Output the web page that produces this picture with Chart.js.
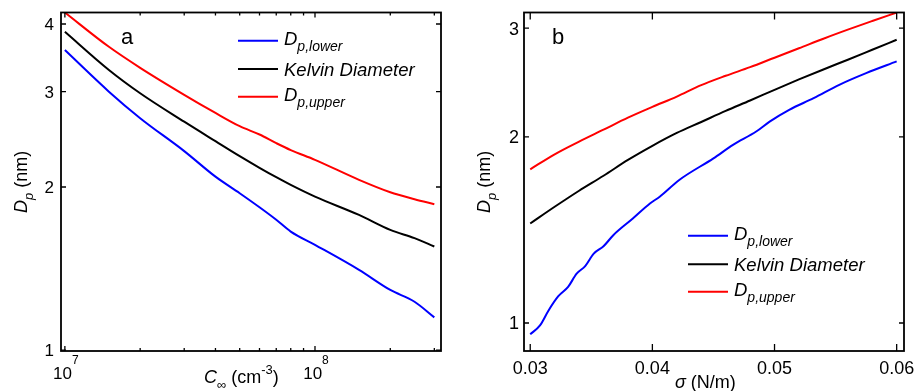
<!DOCTYPE html>
<html>
<head>
<meta charset="utf-8">
<script src="https://cdn.jsdelivr.net/npm/chart.js@4.4.1/dist/chart.umd.min.js"></script>
<style>
  body { margin: 0; background: #fff; }
  #wrap { position: relative; width: 917px; height: 391px; }
  canvas { position: absolute; top: 0; }
  #chartA { left: 0; }
  #chartB { left: 460px; }
</style>
</head>
<body>
<div id="wrap">
  <canvas id="chartA" width="460" height="391"></canvas>
  <canvas id="chartB" width="457" height="391"></canvas>
</div>
<script>
// panel a: Dp vs C_inf (log-log)
const concA = [1e7, 1.5e7, 2e7, 3e7, 4e7, 5e7, 6e7, 7e7, 8e7, 1e8, 1.5e8, 2e8, 2.5e8, 3e8];
const lowerA = [3.58, 3.0, 2.68, 2.33, 2.09, 1.948, 1.835, 1.74, 1.655, 1.564, 1.406, 1.291, 1.228, 1.149];
const kelvinA = [3.87, 3.29, 2.98, 2.64, 2.43, 2.28, 2.17, 2.085, 2.018, 1.92, 1.776, 1.667, 1.609, 1.553];
const upperA = [4.2, 3.63, 3.32, 2.96, 2.74, 2.59, 2.50, 2.41, 2.34, 2.245, 2.062, 1.956, 1.899, 1.859];

// panel b: Dp vs sigma
const sigmaB = [0.030, 0.032, 0.034, 0.036, 0.038, 0.040, 0.042, 0.044, 0.046, 0.048, 0.050, 0.052, 0.054, 0.056, 0.058, 0.060];
const kelvinB = [1.449, 1.542, 1.637, 1.731, 1.836, 1.935, 2.030, 2.115, 2.204, 2.291, 2.384, 2.478, 2.572, 2.667, 2.768, 2.873];
const upperB = [1.773, 1.875, 1.966, 2.055, 2.149, 2.237, 2.325, 2.426, 2.512, 2.594, 2.687, 2.783, 2.884, 2.983, 3.081, 3.18];
const sigmaLow = [0.0300, 0.0308, 0.0315, 0.0323, 0.0331, 0.0338, 0.0345, 0.0352, 0.0360, 0.0368, 0.0384, 0.0398, 0.0406, 0.0422,
                  0.0450, 0.0466, 0.0485, 0.0496, 0.0512, 0.0532, 0.0553, 0.0575, 0.0600];
const lowerB = [0.959, 0.991, 1.048, 1.105, 1.144, 1.202, 1.236, 1.295, 1.331, 1.387, 1.476, 1.561, 1.601, 1.704,
                1.847, 1.942, 2.041, 2.118, 2.213, 2.311, 2.429, 2.537, 2.65];

// ticks
const xMajorA = [1e7, 1e8];
const xMinorA = [2e7, 3e7, 4e7, 5e7, 6e7, 7e7, 8e7, 9e7, 2e8, 3e8];
const yTicksA = [1, 2, 3, 4];
const xTicksB = [0.03, 0.04, 0.05, 0.06];
const yTicksB = [1, 2, 3];

const F = '"Liberation Sans", Arial, Helvetica, sans-serif';
const BLUE = "#0000ff", BLACK = "#000000", RED = "#ff0000";

const pts = (xs, ys) => xs.map((v, i) => ({ x: v, y: ys[i] }));

// draw a sequence of text pieces (for sub/superscripts)
function drawRuns(ctx, x, y, runs) {
    let cx = x;
    runs.forEach((r) => {
        ctx.font = r.font;
        ctx.fillText(r.t, cx, y + (r.dy || 0));
        cx += ctx.measureText(r.t).width;
    });
    return cx;
}
function runsWidth(ctx, runs) {
    let w = 0;
    runs.forEach((r) => { ctx.font = r.font; w += ctx.measureText(r.t).width; });
    return w;
}

const legendRuns = [
    { color: BLUE, runs: [{ t: "D", font: `italic 18.5px ${F}`, dy: 4.5 }, { t: "p,lower", font: `italic 14px ${F}`, dy: 10.5 }] },
    { color: BLACK, runs: [{ t: "Kelvin Diameter", font: `italic 18.5px ${F}`, dy: 6.5 }] },
    { color: RED, runs: [{ t: "D", font: `italic 18.5px ${F}`, dy: 4.5 }, { t: "p,upper", font: `italic 14px ${F}`, dy: 10.5 }] },
];

// frame, inward ticks, labels, titles and legend (MATLAB look)
function makeDecor(cfg) {
    return {
        id: "decor",
        afterDraw(chart) {
            const { ctx, chartArea: a, scales } = chart;
            const x = scales.x, y = scales.y;
            ctx.save();
            ctx.strokeStyle = "#000";
            ctx.fillStyle = "#000";
            ctx.lineWidth = 1.8;
            ctx.strokeRect(a.left, a.top, a.right - a.left, a.bottom - a.top);

            ctx.lineWidth = 1.3;
            const xTick = (v, len) => {
                const px = x.getPixelForValue(v);
                ctx.beginPath();
                ctx.moveTo(px, a.bottom); ctx.lineTo(px, a.bottom - len);
                ctx.moveTo(px, a.top); ctx.lineTo(px, a.top + len);
                ctx.stroke();
            };
            const yTick = (v, len) => {
                const py = y.getPixelForValue(v);
                ctx.beginPath();
                ctx.moveTo(a.left, py); ctx.lineTo(a.left + len, py);
                ctx.moveTo(a.right, py); ctx.lineTo(a.right - len, py);
                ctx.stroke();
            };
            cfg.xMajor.forEach((v) => xTick(v, cfg.xLen));
            (cfg.xMinor || []).forEach((v) => xTick(v, cfg.xMinLen));
            cfg.yTicks.forEach((v) => yTick(v, cfg.yLen));

            // y tick labels
            ctx.textAlign = "right";
            ctx.textBaseline = "alphabetic";
            ctx.font = `${cfg.tickFont}px ${F}`;
            cfg.yTicks.forEach((v) => {
                ctx.fillText(String(v), a.left - cfg.yLabGap, y.getPixelForValue(v) + cfg.tickFont * 0.36);
            });

            // x tick labels
            ctx.textAlign = "left";
            cfg.xMajor.forEach((v) => {
                const px = x.getPixelForValue(v);
                let runs;
                if (cfg.pow) {
                    runs = [{ t: "10", font: `${cfg.tickFont}px ${F}` },
                            { t: String(Math.round(Math.log10(v))), font: `12px ${F}`, dy: -15 }];
                } else {
                    runs = [{ t: v.toFixed(2), font: `${cfg.tickFont}px ${F}` }];
                }
                const w = runsWidth(ctx, runs);
                drawRuns(ctx, px - w / 2 + (cfg.pow ? 1 : 0), cfg.xLabBase, runs);
            });

            // x title
            drawRuns(ctx, cfg.xTitle.x, cfg.xTitle.y, cfg.xTitle.runs);

            // y title, rotated
            ctx.save();
            ctx.translate(cfg.yTitle.x, cfg.yTitle.y);
            ctx.rotate(-Math.PI / 2);
            drawRuns(ctx, 0, 0, [
                { t: "D", font: `italic 18px ${F}` },
                { t: "p", font: `italic 13px ${F}`, dy: 6 },
                { t: " (nm)", font: `18px ${F}` },
            ]);
            ctx.restore();

            // panel letter
            ctx.font = `22px ${F}`;
            ctx.fillText(cfg.letter.t, cfg.letter.x, cfg.letter.y);

            // legend
            const L = cfg.legend;
            legendRuns.forEach((item, i) => {
                const ly = L.rows[i];
                ctx.strokeStyle = item.color;
                ctx.lineWidth = 2;
                ctx.beginPath();
                ctx.moveTo(L.x, ly); ctx.lineTo(L.x + 40, ly);
                ctx.stroke();
                drawRuns(ctx, L.x + 46, ly, item.runs);
            });
            ctx.restore();
        },
    };
}

function lineSet(label, data, color) {
    return {
        label, data, borderColor: color, borderWidth: 2, pointRadius: 0,
        cubicInterpolationMode: "monotone", fill: false,
    };
}

function baseOptions(xType, xMin, xMax, yMin, yMax, yWidth, padRight) {
    const hidden = { display: false };
    return {
        responsive: false,
        animation: false,
        layout: { padding: { top: 12.5, right: padRight, left: 0, bottom: 0 } },
        plugins: { legend: hidden, tooltip: { enabled: false } },
        scales: {
            x: {
                type: xType, min: xMin, max: xMax,
                grid: hidden, border: hidden, ticks: hidden,
                afterFit: (s) => { s.height = 40; },
            },
            y: {
                type: "logarithmic", min: yMin, max: yMax,
                grid: hidden, border: hidden, ticks: hidden,
                afterFit: (s) => { s.width = yWidth; },
            },
        },
    };
}

new Chart(document.getElementById("chartA"), {
    type: "line",
    data: {
        datasets: [
            lineSet("Dp,lower", pts(concA, lowerA), BLUE),
            lineSet("Kelvin Diameter", pts(concA, kelvinA), BLACK),
            lineSet("Dp,upper", pts(concA, upperA), RED),
        ],
    },
    options: baseOptions("logarithmic", 9.65e6, 3.19e8, 0.996, 4.2, 61, 19),
    plugins: [makeDecor({
        xMajor: xMajorA, xMinor: xMinorA, yTicks: yTicksA,
        xLen: 5, xMinLen: 3, yLen: 5,
        tickFont: 17, yLabGap: 7, pow: true, xLabBase: 379,
        xTitle: { x: 204, y: 383, runs: [
            { t: "C", font: `italic 18px ${F}` },
            { t: "\u221e", font: `13px ${F}`, dy: 6 },
            { t: " (cm", font: `18px ${F}` },
            { t: "-3", font: `13px ${F}`, dy: -9 },
            { t: ")", font: `18px ${F}` },
        ] },
        yTitle: { x: 27, y: 213 },
        letter: { t: "a", x: 121, y: 44 },
        legend: { x: 238, rows: [40.7, 69, 96.7] },
    })],
});

new Chart(document.getElementById("chartB"), {
    type: "line",
    data: {
        datasets: [
            lineSet("Dp,lower", pts(sigmaLow, lowerB), BLUE),
            lineSet("Kelvin Diameter", pts(sigmaB, kelvinB), BLACK),
            lineSet("Dp,upper", pts(sigmaB, upperB), RED),
        ],
    },
    options: baseOptions("linear", 0.02949, 0.0606, 0.901, 3.18, 64, 13),
    plugins: [makeDecor({
        xMajor: xTicksB, yTicks: yTicksB,
        xLen: 7, xMinLen: 0, yLen: 5,
        tickFont: 18, yLabGap: 5, pow: false, xLabBase: 374,
        xTitle: { x: 215, y: 388, runs: [
            { t: "\u03c3", font: `italic 18px ${F}` },
            { t: " (N/m)", font: `18px ${F}` },
        ] },
        yTitle: { x: 30, y: 213 },
        letter: { t: "b", x: 92, y: 44 },
        legend: { x: 228, rows: [235.7, 264.3, 291.7] },
    })],
});
</script>
</body>
</html>
